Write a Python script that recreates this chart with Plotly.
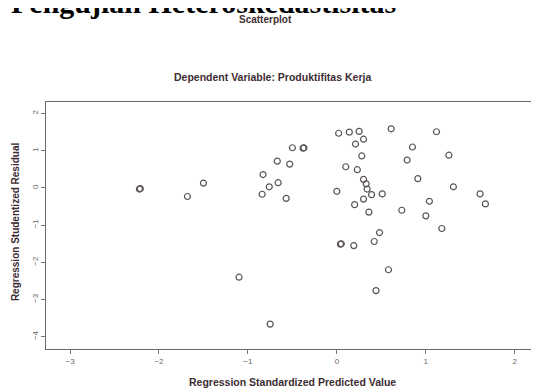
import plotly.graph_objects as go

# Regression standardized predicted value (x) vs studentized residual (y)
x_pred = [-2.22, -2.21, -1.50, -1.68, -1.10, -0.75, -0.83, -0.67, -0.53, -0.50,
          -0.38, -0.37, -0.76, -0.66, -0.84, -0.57, 0.02, 0.14, 0.25, 0.30,
          0.21, 0.61, 1.12, 0.85, 0.28, 0.79, 1.26, 0.10, 0.23, 0.91,
          0.30, 0.33, 0.34, 0.39, 0.00, 0.51, 1.31, 1.61, 1.67, 0.30,
          0.20, 1.04, 0.36, 0.73, 1.00, 1.18, 0.48, 0.42, 0.04, 0.05,
          0.19, 0.58, 0.44]
y_resid = [-0.03, -0.02, 0.13, -0.23, -2.40, -3.66, 0.36, 0.72, 0.64, 1.08,
           1.07, 1.08, 0.03, 0.14, -0.17, -0.28, 1.47, 1.50, 1.52, 1.31,
           1.18, 1.59, 1.51, 1.10, 0.86, 0.75, 0.88, 0.57, 0.49, 0.25,
           0.23, 0.11, -0.03, -0.18, -0.09, -0.16, 0.03, -0.16, -0.43, -0.30,
           -0.45, -0.36, -0.65, -0.60, -0.75, -1.09, -1.20, -1.44, -1.51, -1.50,
           -1.55, -2.20, -2.76]

x_ticks = [-3, -2, -1, 0, 1, 2]
y_ticks = [2, 1, 0, -1, -2, -3, -4]

fig = go.Figure()
fig.add_trace(go.Scatter(
    x=x_pred, y=y_resid, mode="markers",
    marker=dict(symbol="circle-open", size=6, color="#5a5458",
                line=dict(width=1.2, color="#5a5458")),
    showlegend=False, hoverinfo="skip"))

axis_common = dict(showgrid=False, zeroline=False, showline=True,
                   linecolor="#6a6a6a", linewidth=1.2, mirror=True,
                   ticks="outside", ticklen=4, tickcolor="#777",
                   tickfont=dict(family="Liberation Sans", size=8, color="#666"))

fig.update_xaxes(range=[-3.27, 2.25], tickvals=x_ticks, **axis_common)
fig.update_yaxes(range=[-4.33, 2.31], tickvals=y_ticks, tickangle=-90, **axis_common)

anns = [
    dict(text="<b>Pengujian Heteroskedastisitas</b>", x=-0.075, y=1.403,
         xanchor="left", yanchor="middle",
         font=dict(family="Liberation Serif", size=30, color="#000")),
    dict(text="<b>Scatterplot</b>", x=0.448, y=1.332, xanchor="center", yanchor="middle",
         font=dict(family="Liberation Sans", size=10, color="#3d2d33")),
    dict(text="<b>Dependent Variable: Produktifitas Kerja</b>", x=0.462, y=1.101,
         xanchor="center", yanchor="middle",
         font=dict(family="Liberation Sans", size=10.5, color="#3d2d33")),
    dict(text="<b>Regression Standardized Predicted Value</b>", x=0.503, y=-0.134,
         xanchor="center", yanchor="middle",
         font=dict(family="Liberation Sans", size=10.5, color="#3d2d33")),
    dict(text="<b>Regression Studentized Residual</b>", x=-0.063, y=0.514,
         xanchor="center", yanchor="middle", textangle=-90,
         font=dict(family="Liberation Sans", size=10, color="#3d2d33")),
]
for a in anns:
    a.update(xref="paper", yref="paper", showarrow=False)

# page body has an 8px default margin, so the figure is 8px smaller
fig.update_layout(width=531, height=380, autosize=False,
                  margin=dict(l=38, r=2, t=94, b=39),
                  plot_bgcolor="white", paper_bgcolor="white",
                  annotations=anns)

fig.write_html("out.html")
